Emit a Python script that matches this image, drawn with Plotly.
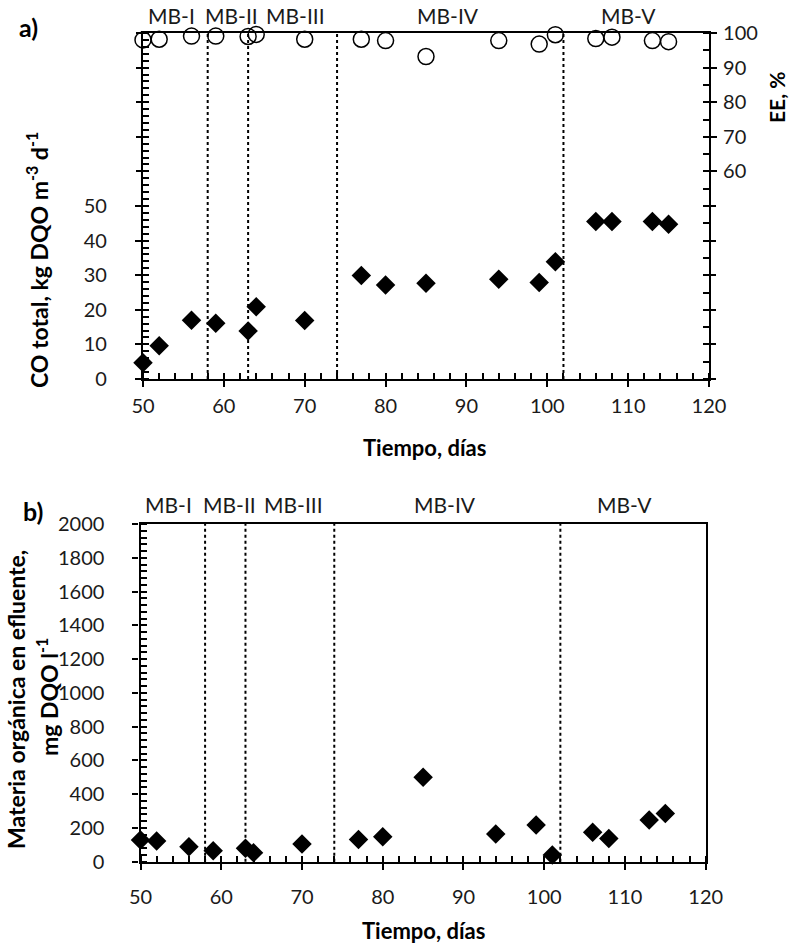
import plotly.graph_objects as go

# ---------------- data ----------------
days = [50, 52, 56, 59, 63, 64, 70, 77, 80, 85, 94, 99, 101, 106, 108, 113, 115]
co_total = [4.7, 9.6, 17.0, 16.1, 13.9, 20.9, 16.9, 29.9, 27.2, 27.7, 28.8, 27.9, 33.9, 45.5, 45.5, 45.5, 44.7]
ee = [98.0, 98.2, 99.1, 99.1, 99.0, 99.6, 98.2, 98.2, 97.8, 93.2, 97.8, 96.8, 99.5, 98.4, 98.8, 97.8, 97.5]
mo_efluente = [128, 122, 89, 65, 79, 53, 105, 132, 148, 500, 164, 217, 40, 174, 138, 247, 286]

phase_bounds = [58, 63, 74, 102]
phase_names = ["MB-I", "MB-II", "MB-III", "MB-IV", "MB-V"]
phase_label_x = [53.5, 61, 68.9, 87.7, 110]

x_ticks = [50, 60, 70, 80, 90, 100, 110, 120]
co_labeled_ticks = [0, 10, 20, 30, 40, 50]
co_unlabeled_ticks = [60, 70, 80, 90, 100]
ee_labeled_ticks = [60, 70, 80, 90, 100]
ee_unlabeled_ticks = [0, 10, 20, 30, 40, 50]
all_pct_ticks = [0, 10, 20, 30, 40, 50, 60, 70, 80, 90, 100]
mo_ticks = [0, 200, 400, 600, 800, 1000, 1200, 1400, 1600, 1800, 2000]

# ---------------- layout geometry ----------------
# the page body margin is removed by post_script, so the figure fills the window
FW, FH = 791, 944
FONT = "Lato"
FS = 20


def fx(px):
    return px / FW


def fy(py):
    return 1 - py / FH


top_x = [fx(143), fx(709)]
top_y = [fy(379), fy(33)]
bot_x = [fx(140.5), fx(705.7)]
bot_y = [fy(861.7), fy(524)]

fig = go.Figure()

fig.add_trace(go.Scatter(x=days, y=co_total, mode="markers", xaxis="x", yaxis="y",
                         marker=dict(symbol="diamond", size=15, color="black"),
                         cliponaxis=False, showlegend=False))
fig.add_trace(go.Scatter(x=days, y=ee, mode="markers", xaxis="x", yaxis="y2",
                         marker=dict(symbol="circle-open", size=16, color="black",
                                     line=dict(width=1.5, color="black")),
                         cliponaxis=False, showlegend=False))
fig.add_trace(go.Scatter(x=days, y=mo_efluente, mode="markers", xaxis="x2", yaxis="y3",
                         marker=dict(symbol="diamond", size=15, color="black"),
                         cliponaxis=False, showlegend=False))
# dummy traces so that the extra tick-only overlay axes are drawn
for xa, ya in [("x3", "y"), ("x", "y4"), ("x", "y5"), ("x", "y7"), ("x", "y8"),
               ("x4", "y3"), ("x2", "y6")]:
    fig.add_trace(go.Scatter(x=[None], y=[None], xaxis=xa, yaxis=ya, mode="markers",
                             showlegend=False, hoverinfo="skip"))

tickfont = dict(family=FONT, size=FS, color="#1a1a1a")
common = dict(showgrid=False, zeroline=False, showline=True, linecolor="black",
              linewidth=2.2, tickcolor="black", tickwidth=1.5, tickfont=tickfont,
              automargin=False)


def minor(dt, t0):
    return dict(dtick=dt, tick0=t0, ticks="inside", ticklen=6,
                tickcolor="black", tickwidth=1.5)


def tick_axis(over, anchor, rng, vals, ticks="inside", side=None):
    d = dict(overlaying=over, anchor=anchor, range=rng, tickvals=vals, ticks=ticks,
             ticklen=6, tickcolor="black", tickwidth=1.5, showticklabels=False,
             showline=False, showgrid=False, zeroline=False, automargin=False)
    if side:
        d["side"] = side
    return d


fig.update_layout(
    width=FW, height=FH,
    margin=dict(l=0, r=0, t=0, b=0, pad=0, autoexpand=False),
    paper_bgcolor="white", plot_bgcolor="white",
    showlegend=False,
    xaxis=dict(domain=top_x, anchor="y", range=[50, 120], tickvals=x_ticks,
               ticks="outside", ticklen=6, mirror=True, ticklabelstandoff=2,
               minor=minor(2, 50), **common),
    yaxis=dict(domain=top_y, anchor="x", range=[0, 100], tickvals=co_labeled_ticks,
               ticks="outside", ticklen=6, ticklabelstandoff=24,
               minor=minor(2, 0), **common),
    yaxis2=dict(overlaying="y", anchor="x", side="right", range=[0, 100],
                tickvals=ee_labeled_ticks, ticks="outside", ticklen=6,
                ticklabelstandoff=2, minor=minor(5, 0), **common),
    xaxis2=dict(domain=bot_x, anchor="y3", range=[50, 120], tickvals=x_ticks,
                ticks="outside", ticklen=6, mirror=True, ticklabelstandoff=10,
                minor=minor(2, 50), **common),
    yaxis3=dict(domain=bot_y, anchor="x2", range=[0, 2000], tickvals=mo_ticks,
                ticks="outside", ticklen=6, mirror=True, ticklabelstandoff=24,
                minor=minor(40, 0), **common),
    xaxis3=tick_axis("x", "y", [50, 120], x_ticks),
    yaxis4=tick_axis("y", "x", [0, 100], all_pct_ticks),
    yaxis5=tick_axis("y", "x", [0, 100], all_pct_ticks, side="right"),
    yaxis7=tick_axis("y", "x", [0, 100], co_unlabeled_ticks, ticks="outside"),
    yaxis8=tick_axis("y", "x", [0, 100], ee_unlabeled_ticks, ticks="outside", side="right"),
    xaxis4=tick_axis("x2", "y3", [50, 120], x_ticks),
    yaxis6=tick_axis("y3", "x2", [0, 2000], mo_ticks),
)

shapes = []
for b in phase_bounds:
    for xr, yr in [("x", "y domain"), ("x2", "y3 domain")]:
        shapes.append(dict(type="line", xref=xr, yref=yr, x0=b, x1=b, y0=0, y1=1,
                           line=dict(color="black", width=2, dash="dot"), layer="below"))
fig.update_layout(shapes=shapes)

ann = []
lab_font = dict(family=FONT, size=21, color="#1a1a1a")
for name, lx in zip(phase_names, phase_label_x):
    ann.append(dict(x=lx, y=1, xref="x", yref="y domain", text=name, showarrow=False,
                    xanchor="center", yanchor="bottom", yshift=3, font=lab_font))
    ann.append(dict(x=lx, y=1, xref="x2", yref="y3 domain", text=name, showarrow=False,
                    xanchor="center", yanchor="bottom", yshift=5, font=lab_font))

title_font = dict(family=FONT, size=23, color="black")


def pa(px, py, text, angle=0, font=title_font):
    return dict(x=fx(px), y=fy(py), xref="paper", yref="paper", text=text,
                textangle=angle, showarrow=False, xanchor="center", yanchor="middle",
                font=font)


ann += [
    pa(38, 260, "<b>CO total, kg DQO m<sup>-3</sup> d<sup>-1</sup></b>", -90),
    pa(776, 98, "<b>EE, %</b>", -90, dict(family=FONT, size=21, color="black")),
    pa(425, 447, "<b>Tiempo, días</b>", 0, dict(family=FONT, size=22, color="black")),
    pa(423, 930, "<b>Tiempo, días</b>", 0, dict(family=FONT, size=22, color="black")),
    pa(16, 700, "<b>Materia orgánica en efluente,</b>", -90),
    pa(47, 697, "<b>mg DQO l<sup>-1</sup></b>", -90),
    pa(28, 27, "<b>a)</b>", 0, dict(family=FONT, size=25, color="black")),
    pa(33, 511, "<b>b)</b>", 0, dict(family=FONT, size=25, color="black")),
]
fig.update_layout(annotations=ann)

fig.write_html(
    "out.html",
    config={"displayModeBar": False},
    post_script="document.body.style.margin='0';document.body.style.overflow='hidden';",
)
